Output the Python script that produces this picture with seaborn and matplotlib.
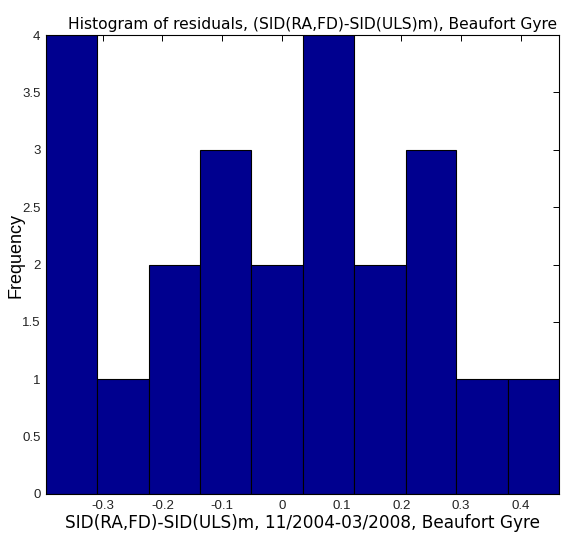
import matplotlib
matplotlib.use("Agg")
import matplotlib.pyplot as plt
import seaborn as sns
import numpy as np

# Histogram data (10 bins, MATLAB-style hist)
bin_edges = [-0.395, -0.309, -0.223, -0.137, -0.051, 0.035, 0.121, 0.207, 0.292, 0.378, 0.464]
counts = [4, 1, 2, 3, 2, 4, 2, 3, 1, 1]
x_ticks = [-0.3, -0.2, -0.1, 0, 0.1, 0.2, 0.3, 0.4]
x_tick_labels = ["-0.3", "-0.2", "-0.1", "0", "0.1", "0.2", "0.3", "0.4"]
y_ticks = [0, 0.5, 1, 1.5, 2, 2.5, 3, 3.5, 4]
y_tick_labels = ["0", "0.5", "1", "1.5", "2", "2.5", "3", "3.5", "4"]

title = "Histogram of residuals, (SID(RA,FD)-SID(ULS)m), Beaufort Gyre"
xlabel = "SID(RA,FD)-SID(ULS)m, 11/2004-03/2008, Beaufort Gyre"
ylabel = "Frequency"

sns.set_style("white")
plt.rcParams["font.family"] = ["DejaVu Sans"]

centers = [(bin_edges[i] + bin_edges[i + 1]) / 2 for i in range(len(counts))]

fig = plt.figure(figsize=(5.63, 5.40), dpi=100)
ax = fig.add_axes([46 / 563, 1 - 494 / 540, (559 - 46) / 563, (494 - 35) / 540])

sns.histplot(x=centers, weights=counts, bins=bin_edges, color="#00008F",
             edgecolor="black", linewidth=0.8, alpha=1, ax=ax)

ax.set_xlim(bin_edges[0], bin_edges[-1])
ax.set_ylim(0, 4)
narrow = ["Liberation Sans Narrow", "Liberation Sans", "DejaVu Sans"]
ax.set_xticks(x_ticks)
ax.set_xticklabels(x_tick_labels, family=narrow, fontsize=9.5, color="#222222")
ax.set_yticks(y_ticks)
ax.set_yticklabels(y_tick_labels, family=narrow, fontsize=9.5, color="#222222")
ax.tick_params(axis="both", direction="in", length=4, width=0.7, color="black",
               top=True, right=True, bottom=True, left=True, pad=4)

for s in ax.spines.values():
    s.set_visible(True)
    s.set_color("black")
    s.set_linewidth(0.8)

ax.set_title(title, fontsize=11.2, x=0.52, pad=4, color="black")
ax.set_xlabel(xlabel, fontsize=12.2, labelpad=2, color="black")
ax.set_ylabel(ylabel, fontsize=13, family=["Liberation Sans", "DejaVu Sans"], color="black")
ax.yaxis.set_label_coords(-0.042, 0.52)

fig.savefig("out.png", dpi=100, facecolor="white")
